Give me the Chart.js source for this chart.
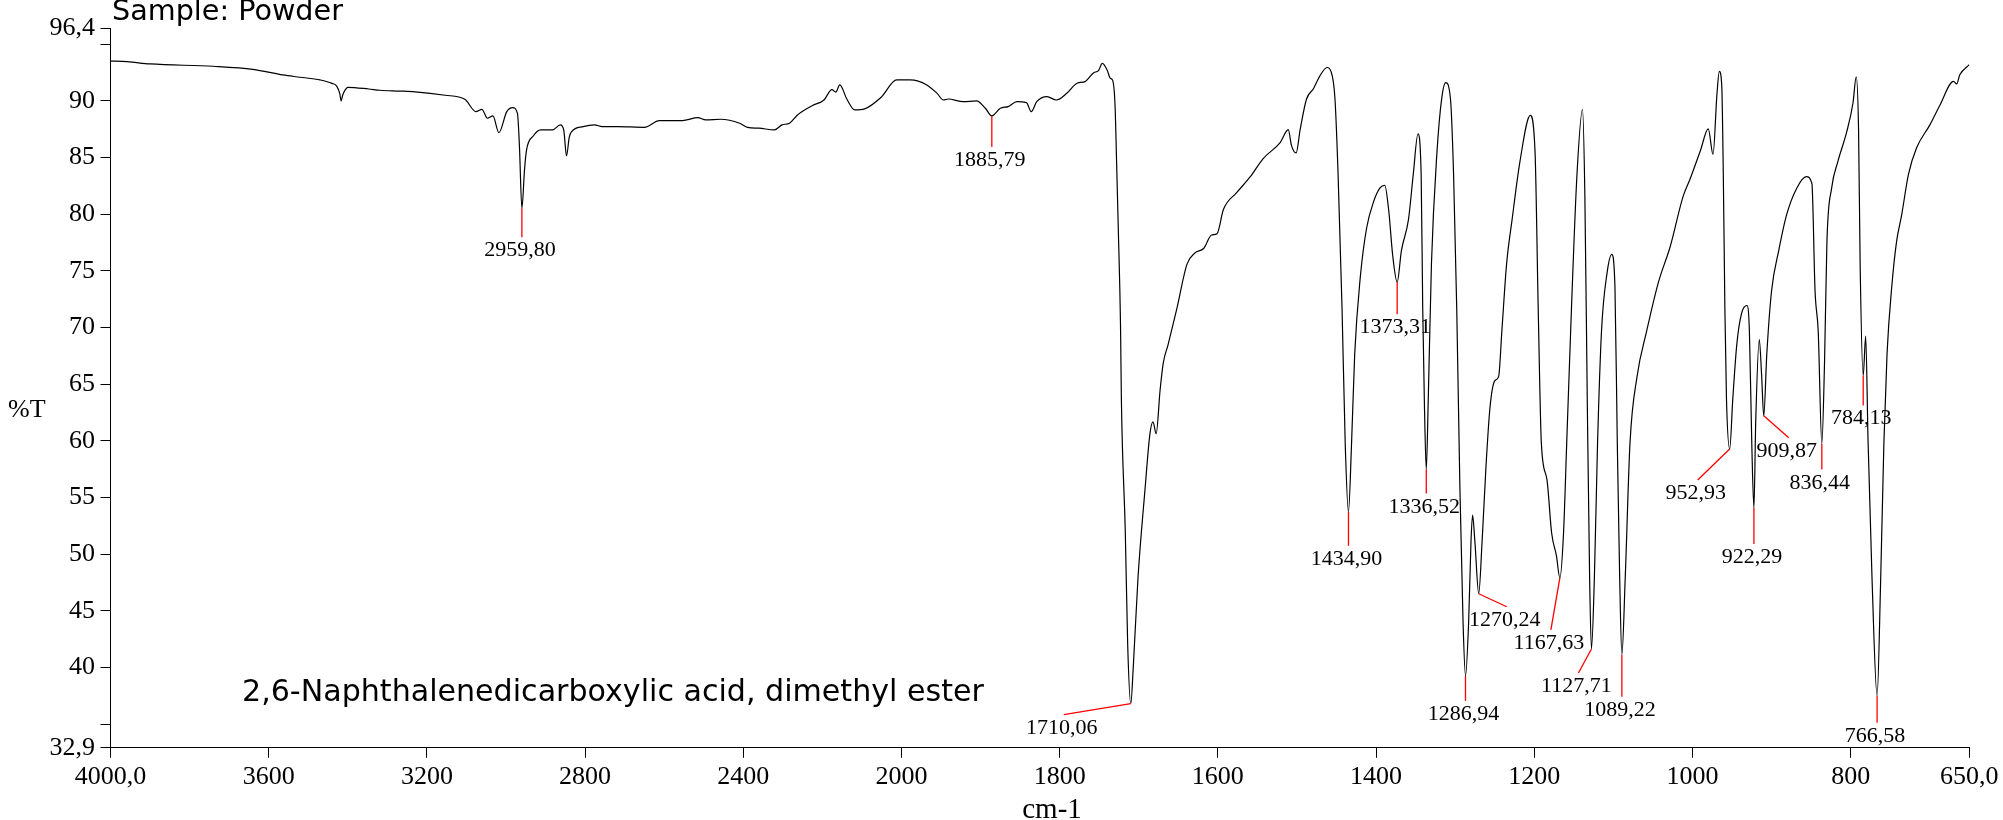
<!DOCTYPE html>
<html><head><meta charset="utf-8">
<script src="https://cdn.jsdelivr.net/npm/chart.js@4.4.0/dist/chart.umd.min.js"></script>
<style>html,body{margin:0;padding:0;background:#fff;overflow:hidden}canvas{display:block}</style>
</head><body>
<canvas id="c" width="2003" height="820"></canvas>
<script>
// ---- data (wavenumber in cm-1, %T) ----
const wavenumbers = [
 4000,3958,3900,3741,3640,3564,3521,3470,3440,3428,3420,3417,3413,3407,3400,3347,3319,3268,3230,3154,
 3104,3076,3061,3047,3033,3018,2998,2983,2971,2966,2959.8,2953,2948,2931,2912,2882,2863,2854,2847,2840,
 2834,2805,2776,2757,2718,2650,2612,2554,2515,2495,2457,2409,2389,2360,2321,2302,2283,2263,2225,2196,
 2176,2166,2156,2138,2118,2093,2052,2012,1989,1968,1955,1947,1941,1922,1905,1894,1885.79,1875,1865,1854,
 1842,1836,1829,1816,1804,1791,1778,1768,1757,1751,1746,1740,1736,1733,1730,1728,1726,1723,1722,1717,
 1714,1710.06,1707,1701,1692,1686,1682,1678,1673,1669,1663,1652,1639,1629,1618,1608,1601,1593,1576,1559,
 1543,1521,1511,1507,1501,1496,1488,1479,1471,1462,1457,1452,1448,1443,1439,1434.9,1431,1427,1420,1412,
 1403,1395,1389,1384,1379,1373.31,1368,1359,1353,1347,1343,1341,1339,1336.52,1334,1330,1323,1317,1312,1306,
 1302,1298,1294,1290,1286.94,1283,1280,1278,1275,1270.24,1266,1261,1256,1250,1245,1241,1235,1228,1218,1205,
 1199,1195,1191,1184,1178,1172,1167.63,1163,1159,1153,1146,1139,1136,1133,1130,1127.71,1124,1120,1115,1108,
 1102,1098,1095,1092,1089.22,1085,1079,1070,1058,1043,1028,1012,1003,990,980,974,969,966,963,961,
 959,957,952.93,949,944,938,931,928,925,922.29,920,915.5,912.5,909.87,906,900,891,881,868,856,
 849,845,841,836.44,833,830,824,816,805,797,793,790,788,784.13,781,778,773,766.58,762,758,
 754,748,742,735.5,727,716.5,700,687,670,666,662,650
];
const transmittance = [
 93.52,93.46,93.26,93.06,92.79,92.29,92.09,91.85,91.55,91.3,90.6,90.0,90.5,90.95,91.2,91.05,90.94,90.87,90.8,90.5,
 90.14,89.05,89.26,88.47,88.67,87.2,89.05,89.4,88.9,86.0,80.53,84.0,85.67,86.9,87.44,87.44,87.88,87.44,85.14,86.8,
 87.29,87.73,87.88,87.73,87.73,87.67,88.26,88.26,88.52,88.32,88.38,88.03,87.67,87.59,87.44,87.88,88.03,88.76,89.6,90.08,
 91.0,90.78,91.41,90.15,89.2,89.3,90.3,91.85,91.85,91.41,90.67,90.08,90.17,89.93,90.0,89.35,88.67,89.35,89.5,89.93,
 89.85,89.05,89.93,90.37,90.08,90.67,91.56,91.7,92.49,92.67,93.32,92.73,92.0,91.81,89.6,84.5,79.0,69.8,63.7,51.84,
 41.95,36.8,39.97,47.88,55.8,60.55,61.66,60.63,64.51,66.88,68.47,71.63,75.59,76.58,76.97,78.16,78.28,80.41,81.92,83.31,
 84.89,86.35,87.46,86.08,85.41,87.46,90.15,91.1,92.21,92.95,92.61,90.23,83.5,71.63,59.75,53.73,59.75,67.67,74.4,78.76,
 81.13,82.32,82.55,80.33,76.38,74.0,76.77,79.54,83.5,87.1,83.5,71.63,63.71,57.46,63.7,75.59,85.48,90.23,91.62,90.23,
 83.5,71.63,55.8,43.93,39.25,43.93,51.05,53.43,51.05,46.5,51.05,57.78,62.92,65.29,65.69,69.65,75.59,79.54,84.69,88.72,
 85.48,71.63,59.75,56.59,51.84,49.86,47.89,51.84,59.75,71.63,83.5,89.24,81.53,63.7,47.88,41.62,47.88,59.75,69.65,74.8,
 76.46,73.62,59.75,47.88,41.12,47.88,59.75,65.69,69.65,74.0,77.17,81.53,83.1,85.6,87.54,85.28,90.63,92.61,91.42,83.5,
 71.63,63.7,59.27,63.7,68.47,71.23,71.94,69.65,59.75,54.06,61.74,68.94,65.69,62.2,67.67,73.22,76.77,79.94,82.32,83.31,
 82.71,73.22,69.65,59.75,67.0,77.56,82.32,84.69,87.26,89.84,92.13,87.46,75.59,65.77,69.25,60.0,47.88,37.5,47.88,59.75,
 67.67,73.62,77.56,79.94,83.5,85.88,87.86,89.64,91.73,91.5,92.3,93.2
];
const xTickValues = [4000,3600,3200,2800,2400,2000,1800,1600,1400,1200,1000,800,650];
const xTickLabels = ['4000,0','3600','3200','2800','2400','2000','1800','1600','1400','1200','1000','800','650,0'];
const yTickValues = [32.9,35,40,45,50,55,60,65,70,75,80,85,90,95,96.4];
const yTickLabels = ['32,9','','40','45','50','55','60','65','70','75','80','85','90','','96,4'];
const peakPositions = [2959.80,1885.79,1710.06,1434.90,1373.31,1336.52,1286.94,1270.24,1167.63,1127.71,1089.22,952.93,922.29,909.87,836.44,784.13,766.58];
const peakValues = [80.53,88.67,36.8,53.73,74.0,57.46,39.25,46.5,47.89,41.62,41.12,59.27,54.06,62.2,59.75,65.77,37.5];
const peakLabels = ['2959,80','1885,79','1710,06','1434,90','1373,31','1336,52','1286,94','1270,24','1167,63','1127,71','1089,22','952,93','922,29','909,87','836,44','784,13','766,58'];
const sampleText = 'Sample: Powder';
const compoundName = '2,6-Naphthalenedicarboxylic acid, dimethyl ester';
const xAxisTitle = 'cm-1';
const yAxisTitle = '%T';

// ---- styling: leader line offsets (pixels from the peak point) ----
const leaderOffsets = [[0,29],[0,31],[-67,11],[0,34],[0,32],[0,24],[0,25],[28,13],[-9,52],[-13,24],[0,42],[-32,31],[0,36],[25,22],[0,26],[0,30],[0,27]];

// ---- IR axis: 4000-2000 cm-1 drawn at half the scale of 2000-650 cm-1 ----
class IRScale extends Chart.LinearScale {
  _u(v) { return v > 2000 ? 2000 + (v - 2000) / 2 : v; }
  getPixelForValue(value) {
    if (value === null || value === undefined || isNaN(value)) return NaN;
    const a = this._u(this.min), b = this._u(this.max);
    return this.getPixelForDecimal((this._u(value) - a) / (b - a));
  }
  getValueForPixel(pixel) {
    const a = this._u(this.min), b = this._u(this.max);
    const u = a + this.getDecimalForPixel(pixel) * (b - a);
    return u > 2000 ? 2000 + (u - 2000) * 2 : u;
  }
}
IRScale.id = 'irscale';
IRScale.defaults = Chart.LinearScale.defaults;
Chart.register(IRScale);

const serif = 'Liberation Serif';
const casual = 'DejaVu Sans';

function fittedFont(ctx, text, family, width) {
  ctx.font = '100px "' + family + '"';
  const w = ctx.measureText(text).width;
  return (100 * width / w).toFixed(2) + 'px "' + family + '"';
}

const textPlugin = {
  id: 'irText',
  afterDatasetsDraw(chart) {
    const ctx = chart.ctx, xs = chart.scales.x, ys = chart.scales.y;
    ctx.save();
    ctx.strokeStyle = '#ff0000';
    ctx.lineWidth = 1.3;
    ctx.fillStyle = '#000';
    ctx.font = '22px "' + serif + '"';
    ctx.textAlign = 'center';
    ctx.textBaseline = 'alphabetic';
    peakPositions.forEach((w, i) => {
      const px = xs.getPixelForValue(w), py = ys.getPixelForValue(peakValues[i]);
      const ex = px + leaderOffsets[i][0], ey = py + leaderOffsets[i][1];
      ctx.beginPath(); ctx.moveTo(px, py); ctx.lineTo(ex, ey); ctx.stroke();
      ctx.fillText(peakLabels[i], ex - 2, ey + 19);
    });
    ctx.textAlign = 'left';
    ctx.font = fittedFont(ctx, sampleText, casual, 231);
    ctx.fillText(sampleText, 112, 20);
    ctx.font = fittedFont(ctx, compoundName, casual, 742);
    ctx.fillText(compoundName, 242, 701);
    ctx.font = '26px "' + serif + '"';
    ctx.fillText(yAxisTitle, 8, 417);
    ctx.textAlign = 'center';
    ctx.font = '29px "' + serif + '"';
    ctx.fillText(xAxisTitle, 1052, 818);
    ctx.restore();
  }
};

new Chart(document.getElementById('c'), {
  type: 'line',
  data: {
    datasets: [{
      data: wavenumbers.map((w, i) => ({ x: w, y: transmittance[i] })),
      borderColor: '#000',
      borderWidth: 1.2,
      pointRadius: 0,
      fill: false,
      cubicInterpolationMode: 'monotone'
    }]
  },
  options: {
    responsive: false,
    animation: false,
    devicePixelRatio: 1,
    layout: { padding: { top: 28.4, right: 33.7, left: 0, bottom: 0 } },
    plugins: { legend: { display: false }, tooltip: { enabled: false }, title: { display: false } },
    scales: {
      x: {
        type: 'irscale', reverse: true, min: 650, max: 4000, position: 'bottom',
        afterBuildTicks: s => { s.ticks = xTickValues.map(v => ({ value: v })); },
        afterFit: s => { s.height = 820 - 747.8; s.paddingLeft = 0; s.paddingRight = 0; },
        grid: { drawOnChartArea: false, drawTicks: true, tickLength: 10, tickColor: '#000', tickWidth: 1 },
        border: { display: true, color: '#000', width: 1 },
        ticks: { autoSkip: false, maxRotation: 0, minRotation: 0, padding: 4, color: '#000',
          font: { family: serif, size: 26 }, callback: (v, i) => xTickLabels[i] }
      },
      y: {
        type: 'linear', min: 32.9, max: 96.4, position: 'left',
        afterBuildTicks: s => { s.ticks = yTickValues.map(v => ({ value: v })); },
        afterFit: s => { s.width = 110.5; s.paddingTop = 0; s.paddingBottom = 0; },
        grid: { drawOnChartArea: false, drawTicks: true, tickLength: 10, tickColor: '#000', tickWidth: 1 },
        border: { display: true, color: '#000', width: 1 },
        ticks: { autoSkip: false, padding: 5.5, color: '#000',
          font: { family: serif, size: 26 }, callback: (v, i) => yTickLabels[i] }
      }
    }
  },
  plugins: [textPlugin]
});
</script>
</body></html>
